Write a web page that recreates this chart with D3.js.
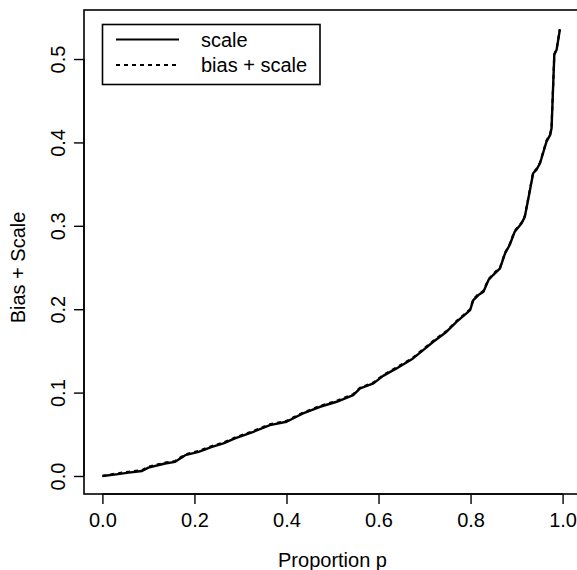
<!DOCTYPE html>
<html>
<head>
<meta charset="utf-8">
<script src="https://cdn.jsdelivr.net/npm/d3@7"></script>
<style>
  body { margin: 0; background: #fff; }
  svg text { font-family: "Liberation Sans", Arial, Helvetica, sans-serif; fill: #000; }
</style>
</head>
<body>
<div id="chart"></div>
<script>
// proportion p (x) and the two curves
const pVals = [0, 0.03, 0.057, 0.086, 0.1, 0.136, 0.158, 0.18, 0.209, 0.238, 0.263, 0.288, 0.328, 0.364, 0.4,
  0.436, 0.473, 0.509, 0.545, 0.56, 0.589, 0.61, 0.639, 0.675, 0.697, 0.719, 0.748, 0.77, 0.791, 0.799,
  0.806, 0.817, 0.828, 0.839, 0.849, 0.864, 0.875, 0.885, 0.896, 0.911, 0.918, 0.925, 0.936, 0.943,
  0.951, 0.965, 0.973, 0.976, 0.982, 0.987, 0.994];
const scaleVals = [0, 0.002, 0.004, 0.006, 0.010, 0.015, 0.017, 0.025, 0.029, 0.035, 0.039, 0.045, 0.053, 0.061, 0.065,
  0.075, 0.083, 0.089, 0.097, 0.105, 0.111, 0.120, 0.129, 0.141, 0.151, 0.161, 0.173, 0.185, 0.195, 0.199,
  0.211, 0.217, 0.221, 0.235, 0.241, 0.249, 0.267, 0.277, 0.293, 0.303, 0.311, 0.331, 0.363, 0.367,
  0.375, 0.401, 0.409, 0.417, 0.505, 0.511, 0.535];
const biasScaleVals = [0, 0.003, 0.005, 0.007, 0.011, 0.016, 0.018, 0.026, 0.030, 0.036, 0.040, 0.046, 0.054, 0.062, 0.066,
  0.076, 0.084, 0.090, 0.098, 0.106, 0.112, 0.121, 0.130, 0.142, 0.152, 0.162, 0.174, 0.186, 0.196, 0.200,
  0.212, 0.218, 0.222, 0.236, 0.242, 0.250, 0.268, 0.278, 0.294, 0.304, 0.312, 0.332, 0.364, 0.368,
  0.376, 0.402, 0.410, 0.418, 0.506, 0.512, 0.536];

const xTicks = [0, 0.2, 0.4, 0.6, 0.8, 1.0];
const yTicks = [0, 0.1, 0.2, 0.3, 0.4, 0.5];
const legendLabels = ["scale", "bias + scale"];

const W = 577, H = 570;
const plot = {left: 84, top: 10, right: 581, bottom: 494};

const svg = d3.select("#chart").append("svg")
  .attr("width", W).attr("height", H);

const x = d3.scaleLinear().domain([-0.04, 1.04]).range([plot.left, plot.right]);
const y = d3.scaleLinear().domain([-0.0216, 0.5588]).range([plot.bottom, plot.top]);

// box
svg.append("rect")
  .attr("x", plot.left).attr("y", plot.top)
  .attr("width", plot.right - plot.left).attr("height", plot.bottom - plot.top)
  .attr("fill", "none").attr("stroke", "#000").attr("stroke-width", 1.6);

// x axis
const gx = svg.append("g")
  .attr("transform", "translate(0," + plot.bottom + ")")
  .call(d3.axisBottom(x).tickValues(xTicks).tickFormat(d3.format(".1f")).tickSize(10).tickSizeOuter(0));
gx.select(".domain").attr("d", "M" + x(0) + ",0H" + x(1)).attr("stroke-width", 1.4);
gx.selectAll(".tick line").attr("stroke-width", 1.4);
gx.selectAll(".tick text").attr("y", 26).attr("dy", "0.35em").style("font-size", "20px");

// y axis
const gy = svg.append("g")
  .attr("transform", "translate(" + plot.left + ",0)")
  .call(d3.axisLeft(y).tickValues(yTicks).tickFormat(d3.format(".1f")).tickSize(10).tickSizeOuter(0));
gy.select(".domain").attr("d", "M0," + y(0) + "V" + y(0.5)).attr("stroke-width", 1.4);
gy.selectAll(".tick line").attr("stroke-width", 1.4);
gy.selectAll(".tick text")
  .attr("x", null).attr("dy", null)
  .attr("text-anchor", "middle")
  .attr("transform", "translate(-26,0) rotate(-90)")
  .attr("dy", "0.35em")
  .style("font-size", "20px");
svg.selectAll(".domain, .tick line").attr("stroke", "#000");

// axis titles
svg.append("text")
  .attr("x", x(0.5)).attr("y", 560).attr("dy", "0.35em")
  .attr("text-anchor", "middle").style("font-size", "20px")
  .text("Proportion p");
svg.append("text")
  .attr("transform", "translate(18," + y(0.25) + ") rotate(-90)")
  .attr("dy", "0.35em")
  .attr("text-anchor", "middle").style("font-size", "20px")
  .text("Bias + Scale");

// curves
const line = d3.line()
  .x((d, i) => x(pVals[i]))
  .y(d => y(d));

svg.append("path")
  .datum(scaleVals)
  .attr("d", line)
  .attr("fill", "none").attr("stroke", "#000")
  .attr("stroke-width", 2.4).attr("stroke-linejoin", "round");

svg.append("path")
  .datum(biasScaleVals)
  .attr("d", line)
  .attr("fill", "none").attr("stroke", "#000")
  .attr("stroke-width", 2.2).attr("stroke-dasharray", "4,4");

// legend
const lg = svg.append("g");
lg.append("rect")
  .attr("x", 102.5).attr("y", 24.5).attr("width", 217.5).attr("height", 60)
  .attr("fill", "#fff").attr("stroke", "#000").attr("stroke-width", 1.6);
const dashes = [null, "4,4"];
legendLabels.forEach((lab, i) => {
  const yy = 39.5 + i * 25.5;
  lg.append("line")
    .attr("x1", 116).attr("x2", 179).attr("y1", yy).attr("y2", yy)
    .attr("stroke", "#000").attr("stroke-width", 2)
    .attr("stroke-dasharray", dashes[i]);
  lg.append("text")
    .attr("x", 201).attr("y", yy).attr("dy", "0.35em")
    .style("font-size", "20px")
    .text(lab);
});
</script>
</body>
</html>
